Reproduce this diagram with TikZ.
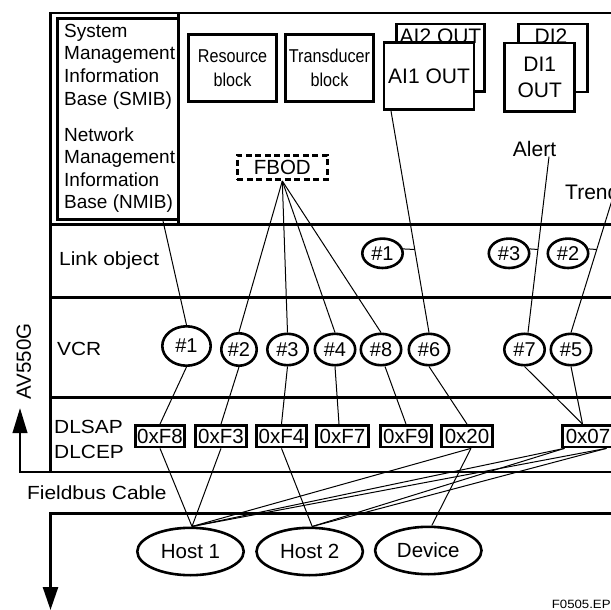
\documentclass[tikz,border=0pt]{standalone}
\usepackage{fontspec}
\setmainfont{Liberation Sans}
\newfontfamily\widefont{Liberation Sans}[FakeStretch=1.1]
\newfontfamily\narrowfont{Liberation Sans}[FakeStretch=0.87]
\usetikzlibrary{arrows.meta,shapes.geometric}
\newcommand{\fsz}[1]{\fontsize{#1}{#1}\selectfont}
\begin{document}
\begin{tikzpicture}[x=1pt,y=-1pt,
  thk/.style={line width=2.6pt},
  conn/.style={line width=1pt},
  boxnode/.style={draw,line width=2.6pt,fill=white,inner sep=0pt,align=center},
  vcr/.style={draw,ellipse,line width=2.6pt,inner sep=0pt,minimum width=40.4pt,minimum height=31.4pt,font=\fsz{20}},
  lnk/.style={draw,ellipse,line width=2.6pt,inner sep=0pt,minimum width=40.4pt,minimum height=29.4pt,font=\fsz{20}},
  sap/.style={draw,line width=2.6pt,inner sep=0pt,minimum width=51.4pt,minimum height=21.7pt,font=\fsz{20.5}},
  host/.style={draw,ellipse,line width=2.6pt,inner sep=0pt,minimum width=106.4pt,minimum height=47.4pt,font=\fsz{20.5}},
  lbl/.style={inner sep=0pt},
  widelbl/.style={inner sep=0pt,anchor=base west,font=\widefont\fsz{19}},
]
\useasboundingbox (0,0) rectangle (611,610);
\clip (0,0) rectangle (611,610);

% frame
\draw[thk] (620,13) -- (50.5,13) -- (50.5,472);
\draw[thk] (50.5,224.7) -- (620,224.7);
\draw[thk] (50.5,297.3) -- (620,297.3);
\draw[thk] (50.5,397.3) -- (620,397.3);
\draw[thk] (178.3,13) -- (178.3,224.7);
\draw[thk,-{Triangle[width=14.4pt,length=25pt]}] (620,472) -- (20,472) -- (20,408);
\draw[thk,-{Triangle[width=15pt,length=23pt]}] (620,513.5) -- (50.5,513.5) -- (50.5,610);

% top section
\node[boxnode,minimum width=120.8pt,minimum height=201pt] (smib) at (117.9,119.2) {};
\node[lbl,anchor=west,align=left,font=\fontsize{19}{22.6}\selectfont] (smibt) at (64,66.5) {System\\Management\\Information\\Base (SMIB)};
\node[lbl,anchor=west,align=left,font=\fontsize{19}{22.6}\selectfont] (nmibt) at (64,170) {Network\\Management\\Information\\Base (NMIB)};

\node[boxnode,minimum width=88.4pt,minimum height=67.4pt,font=\narrowfont\fontsize{18.6}{24}\selectfont] (res) at (232.5,68) {Resource\\block};
\node[boxnode,minimum width=88.4pt,minimum height=67.4pt,font=\narrowfont\fontsize{18.6}{24}\selectfont] (trd) at (329.5,68) {Transducer\\block};

\node[boxnode,minimum width=88.4pt,minimum height=67.5pt] (ai2) at (440.5,57.6) {};
\node[lbl,anchor=base,font=\fsz{21}] (ai2t) at (440.5,43.3) {AI2 OUT};
\node[boxnode,minimum width=90pt,minimum height=67.4pt,font=\fsz{21}] (ai1) at (429,76) {AI1 OUT};

\node[boxnode,minimum width=68.6pt,minimum height=68pt] (di2) at (553,58) {};
\node[lbl,anchor=base,font=\fsz{21}] (di2t) at (551,43.3) {DI2};
\node[boxnode,minimum width=70pt,minimum height=68.3pt,font=\fontsize{21}{25.5}\selectfont] (di1) at (539.7,77.2) {DI1\\OUT};

\node[draw,line width=2.6pt,dash pattern=on 6pt off 3.5pt,inner sep=0pt,minimum width=90pt,minimum height=24.4pt,font=\fsz{20.5}] (fbod) at (282.3,167.5) {FBOD};

\node[lbl,font=\fsz{21}] (alert) at (534.5,148.8) {Alert};
\node[lbl,anchor=west,font=\fsz{21}] (trend) at (565,192.2) {Trend};

% row labels
\node[widelbl] (linkt) at (59,265.1) {Link object};
\node[widelbl] (vcrt) at (57,355.1) {VCR};
\node[widelbl] (dlsap) at (54,433.8) {DLSAP};
\node[widelbl] (dlcep) at (54,458.5) {DLCEP};
\node[widelbl] (cable) at (27,499.5) {Fieldbus Cable};
\node[lbl,rotate=90,font=\fsz{20.5}] (av) at (23.8,361.5) {AV550G};
\node[lbl,anchor=base west,font=\widefont\fsz{12}] (fig) at (551.7,608.5) {F0505.EPS};

% link objects
\node[lnk] (l1) at (382.5,253.3) {\#1};
\node[lnk] (l3) at (509,253.3) {\#3};
\node[lnk] (l2) at (568,253.3) {\#2};

% VCRs
\node[vcr,minimum width=48.4pt,minimum height=39.4pt] (v1) at (186.5,346) {\#1};
\node[vcr,minimum width=35.4pt,minimum height=32.4pt] (v2) at (239,349.5) {\#2};
\node[vcr] (v3) at (287.5,349.5) {\#3};
\node[vcr] (v4) at (335,349.5) {\#4};
\node[vcr] (v8) at (381,349.5) {\#8};
\node[vcr] (v6) at (429,349.5) {\#6};
\node[vcr] (v7) at (524.5,349.5) {\#7};
\node[vcr] (v5) at (571,349.5) {\#5};

% DLSAP boxes
\node[sap,minimum width=49.4pt] (f8) at (160,436.2) {0xF8};
\node[sap] (f3) at (221,436.2) {0xF3};
\node[sap,minimum width=50.4pt] (f4) at (281.5,436.2) {0xF4};
\node[sap,minimum width=52.4pt] (f7) at (342.5,436.2) {0xF7};
\node[sap] (f9) at (406,436.2) {0xF9};
\node[sap] (x20) at (467,436.2) {0x20};
\node[sap] (x07) at (588,436.2) {0x07};

% hosts
\node[host] (h1) at (190.5,551.5) {Host 1};
\node[host] (h2) at (309.7,551.5) {Host 2};
\node[host] (dev) at (428.3,550.5) {Device};

% connectors upper
\draw[conn] ([xshift=45.1pt]smib.south) -- (v1.north);
\foreach \v in {v2,v3,v4,v8} \draw[conn] (fbod.south) -- (\v.north);
\draw[conn] ([xshift=-38pt]ai1.south) -- (v6.north);
\draw[conn] ([xshift=14.5pt]alert.south) -- ([xshift=3.5pt]v7.north);
\draw[conn] ([xshift=19.8pt]trend.south) -- (v5.north);
\coordinate (j1) at (414.6,249.5);
\coordinate (j3) at (538.2,249.5);
\coordinate (j2) at (596.7,249.5);
\draw[conn] (l1.12) -- (j1);
\draw[conn] (l3.12) -- (j3);
\draw[conn] (l2.12) -- (j2);

% connectors lower
\draw[conn] (v1.south) -- (f8.north);
\draw[conn] (v2.south) -- (f3.north);
\draw[conn] (v3.south) -- (f4.north);
\draw[conn] (v4.south) -- ([xshift=-3.5pt]f7.north);
\draw[conn] ([xshift=4pt]v8.south) -- (f9.north);
\draw[conn] (v6.south) -- (x20.north);
\draw[conn] (v7.south) -- ([xshift=-5.5pt]x07.north);
\draw[conn] (v5.south) -- ([xshift=-5.5pt]x07.north);
\draw[conn] (f8.south) -- ([xshift=1.5pt]h1.north);
\draw[conn] (f3.south) -- ([xshift=1.5pt]h1.north);
\draw[conn] (f4.south) -- ([xshift=2.5pt]h2.north);
\draw[conn] ([xshift=4pt]x20.south) -- ([xshift=1.5pt]h1.north);
\draw[conn] ([xshift=4pt]x20.south) -- ([xshift=3.5pt]dev.north);
\draw[conn] ([xshift=-23.5pt]x07.south) -- ([xshift=1.5pt]h1.north);
\draw[conn] ([xshift=18.5pt]x07.south) -- ([xshift=1.5pt]h1.north);
\draw[conn] ([xshift=-23.5pt]x07.south) -- ([xshift=2.5pt]h2.north);
\draw[conn] ([xshift=18.5pt]x07.south) -- ([xshift=2.5pt]h2.north);
\end{tikzpicture}
\end{document}
